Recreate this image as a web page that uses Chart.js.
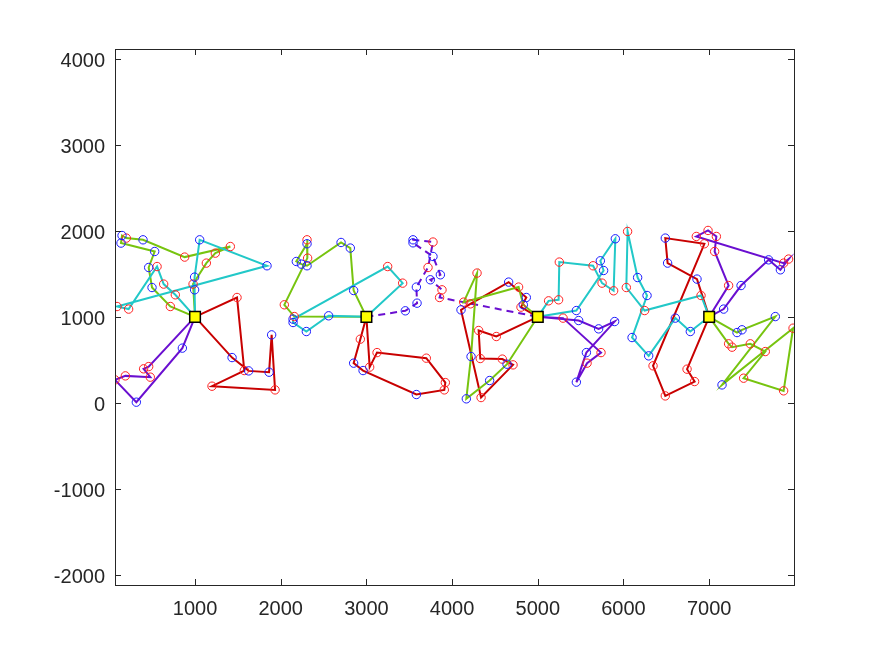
<!DOCTYPE html>
<html><head><meta charset="utf-8">
<script src="https://cdn.jsdelivr.net/npm/chart.js@4.4.1/dist/chart.umd.min.js"></script>
<style>html,body{margin:0;padding:0;background:#fff;}canvas{display:block;}</style>
</head><body>
<canvas id="c" width="875" height="656"></canvas>
<script>
// ---- data ----
const depotX = [1000, 3000, 5000, 7000];
const depotY = [1000, 1000, 1000, 1000];
const xTicks = [1000, 2000, 3000, 4000, 5000, 6000, 7000];
const yTicks = [-2000, -1000, 0, 1000, 2000, 3000, 4000];

// kind: r = red marker, b = blue marker
const d1RedX = [1490,1575,1198,1934,1894,1864,1626,1432];
const d1RedY = [1225,375,193,150,790,356,371,526];
const d1RedK = "rrrrbbbb";
const d1GreenX = [977,1132,1237,1412,879,393,198,148,136,529,459,498,712];
const d1GreenY = [1381,1625,1741,1818,1695,1896,1916,1946,1858,1760,1574,1341,1120];
const d1GreenK = "rrrrrbrbbbbbr";
const d1CyanX = [995,995,1054,1840,90,225,557,634,770];
const d1CyanY = [1314,1462,1896,1594,1120,1090,1585,1381,1256];
const d1CyanK = "bbbbrrrrr";
const d1PurpleX = [459,400,478,187,66,315,852];
const d1PurpleY = [421,395,298,313,267,7,636];
const d1PurpleK = "rrrrrbb";

const d2RedX = [2929,2851,2961,3583,3909,3921,3699,3124,3038];
const d2RedY = [740,461,375,96,150,235,519,584,415];
const d2RedK = "rbbbrrrrr";
const d2GreenX = [2851,2812,2704,2307,2241,2182,2307,2307,2314,2042,2159];
const d2GreenY = [1306,1800,1865,1594,1613,1644,1850,1896,1683,1140,1003];
const d2GreenK = "bbbbbbbrrrr";
const d2CyanX = [3423,3248,2144,2144,2299,2559];
const d2CyanY = [1392,1585,973,934,829,1012];
const d2CyanK = "rrbbbb";
const d2PurpleX = [3454,3591,3583,3719,3777,3544,3544,3777,3863,3746,3882,3854];
const d2PurpleY = [1070,1159,1346,1574,1870,1896,1861,1702,1489,1431,1314,1225];
const d2PurpleK = "bbbrrbbbbbrr";

const d3RedX = [4516,4310,4329,4586,4711,4338,4104,4213,4660,4866,4804];
const d3RedY = [771,841,515,508,441,61,1081,1151,1404,1225,1113];
const d3RedK = "rrrrrrbrbbr";
const d3GreenX = [4641,4438,4166,4221,4291,4135,4776,4831];
const d3GreenY = [449,259,46,538,1509,1171,1346,1140];
const d3GreenK = "bbbbrrrb";
const d3CyanX = [5126,5243,5251,5645,5750,5885,5905,5730,5768,5450];
const d3CyanY = [1186,1198,1637,1594,1392,1303,1908,1652,1539,1073];
const d3CyanK = "rrrrrrbbbb";
const d3PurpleX = [5477,5710,5897,5567,5450,5575,5738,5295];
const d3PurpleY = [957,860,945,584,240,461,584,985];
const d3PurpleK = "bbbbbrrr";

const d4RedX = [6742,6830,6488,6345,6944,6488,6515,6858];
const d4RedY = [391,247,80,430,1850,1916,1625,1439];
const d4RedK = "rrrrrbbb";
const d4GreenX = [7325,7383,7772,7150,7979,7869,7402,7655,7480,7267,7227];
const d4GreenY = [817,849,1003,208,868,139,286,596,686,647,686];
const d4GreenK = "bbbbrrrrrrr";
const d4CyanX = [6905,6247,6033,6048,6165,6275,6100,6294,6605,6780];
const d4CyanY = [1248,1073,1341,1993,1457,1248,759,546,985,829];
const d4CyanK = "rrrrbbbbbb";
const d4PurpleX = [7169,7372,7694,7831,7927,7869,6850,6987,7084,7064,7227];
const d4PurpleY = [1090,1364,1663,1547,1672,1625,1935,2005,1935,1760,1364];
const d4PurpleK = "bbbbrrrrrrr";

// ---- styles ----
const C_RED = '#c80000', C_GREEN = '#77c40f', C_CYAN = '#22c8c8', C_PURPLE = '#6a0fd0';
const M_RED = '#ff2020', M_BLUE = '#1a1aff';

const routes = [
  {x:d1RedX,y:d1RedY,k:d1RedK,s:0,e:0,c:C_RED},
  {x:d1GreenX,y:d1GreenY,k:d1GreenK,s:0,e:0,c:C_GREEN},
  {x:d1CyanX,y:d1CyanY,k:d1CyanK,s:0,e:0,c:C_CYAN},
  {x:d1PurpleX,y:d1PurpleY,k:d1PurpleK,s:0,e:0,c:C_PURPLE},
  {x:d2RedX,y:d2RedY,k:d2RedK,s:1,e:1,c:C_RED},
  {x:d2GreenX,y:d2GreenY,k:d2GreenK,s:1,e:1,c:C_GREEN},
  {x:d2CyanX,y:d2CyanY,k:d2CyanK,s:1,e:1,c:C_CYAN},
  {x:d2PurpleX,y:d2PurpleY,k:d2PurpleK,s:1,e:2,c:C_PURPLE,dash:[7,5]},
  {x:d3RedX,y:d3RedY,k:d3RedK,s:2,e:2,c:C_RED},
  {x:d3GreenX,y:d3GreenY,k:d3GreenK,s:2,e:2,c:C_GREEN},
  {x:d3CyanX,y:d3CyanY,k:d3CyanK,s:2,e:2,c:C_CYAN},
  {x:d3PurpleX,y:d3PurpleY,k:d3PurpleK,s:2,e:2,c:C_PURPLE},
  {x:d4RedX,y:d4RedY,k:d4RedK,s:3,e:3,c:C_RED},
  {x:d4GreenX,y:d4GreenY,k:d4GreenK,s:3,e:3,c:C_GREEN},
  {x:d4CyanX,y:d4CyanY,k:d4CyanK,s:3,e:3,c:C_CYAN},
  {x:d4PurpleX,y:d4PurpleY,k:d4PurpleK,s:3,e:3,c:C_PURPLE}
];

const datasets = [];
const redPts = [], bluePts = [];
routes.forEach((r, i) => {
  const pts = [{x:depotX[r.s], y:depotY[r.s]}];
  r.x.forEach((xv, j) => {
    pts.push({x:xv, y:r.y[j]});
    (r.k[j] === 'r' ? redPts : bluePts).push({x:xv, y:r.y[j]});
  });
  pts.push({x:depotX[r.e], y:depotY[r.e]});
  datasets.push({
    data: pts, showLine: true, borderColor: r.c, borderWidth: 2,
    borderDash: r.dash || [], pointRadius: 0, fill: false, tension: 0,
    order: 100 - i
  });
});
datasets.push({data: redPts, showLine:false, pointRadius:4.2, pointBorderWidth:1,
  pointBorderColor:M_RED, pointBackgroundColor:'rgba(0,0,0,0)', order:2});
datasets.push({data: bluePts, showLine:false, pointRadius:4.2, pointBorderWidth:1,
  pointBorderColor:M_BLUE, pointBackgroundColor:'rgba(0,0,0,0)', order:1});
datasets.push({data: depotX.map((v,i)=>({x:v,y:depotY[i]})), showLine:false,
  pointStyle:'rect', pointRadius:7.5, pointBorderWidth:1.5,
  pointBorderColor:'#000', pointBackgroundColor:'#ffff00', order:0});

const AX = '#262626';
const boxPlugin = {
  id: 'box',
  afterDraw(chart) {
    const {ctx, chartArea: a, scales: {x, y}} = chart;
    ctx.save();
    ctx.strokeStyle = AX; ctx.lineWidth = 1;
    ctx.strokeRect(Math.round(a.left) + 0.5, Math.round(a.top) + 0.5,
      Math.round(a.right - a.left), Math.round(a.bottom - a.top));
    ctx.beginPath();
    const L = 6;
    x.ticks.forEach(t => {
      const p = Math.round(x.getPixelForValue(t.value)) + 0.5;
      ctx.moveTo(p, a.bottom); ctx.lineTo(p, a.bottom - L);
      ctx.moveTo(p, a.top); ctx.lineTo(p, a.top + L);
    });
    y.ticks.forEach(t => {
      const p = Math.round(y.getPixelForValue(t.value)) + 0.5;
      ctx.moveTo(a.left, p); ctx.lineTo(a.left + L, p);
      ctx.moveTo(a.right, p); ctx.lineTo(a.right - L, p);
    });
    ctx.stroke();
    ctx.restore();
  }
};

const FONT = {family: '"Liberation Sans", Arial, Helvetica, sans-serif', size: 20};
new Chart(document.getElementById('c'), {
  type: 'scatter',
  data: {datasets},
  options: {
    responsive: false, animation: false, devicePixelRatio: 1,
    layout: {padding: {left: 0, top: 49, right: 81, bottom: 0}},
    plugins: {legend: {display: false}, tooltip: {enabled: false}},
    scales: {
      x: {
        type: 'linear', min: 66, max: 7990,
        afterBuildTicks: s => { s.ticks = xTicks.map(v => ({value: v})); },
        afterFit: s => { s.height = 71; },
        grid: {display: false, drawTicks: false},
        border: {display: false},
        ticks: {color: AX, font: FONT, padding: 12, maxRotation: 0, callback: v => String(v)}
      },
      y: {
        type: 'linear', min: -2120, max: 4116,
        afterBuildTicks: s => { s.ticks = yTicks.map(v => ({value: v})); },
        afterFit: s => { s.width = 115; },
        grid: {display: false, drawTicks: false},
        border: {display: false},
        ticks: {color: AX, font: FONT, padding: 10, labelOffset: 3, callback: v => String(v)}
      }
    }
  },
  plugins: [boxPlugin]
});
</script>
</body></html>
